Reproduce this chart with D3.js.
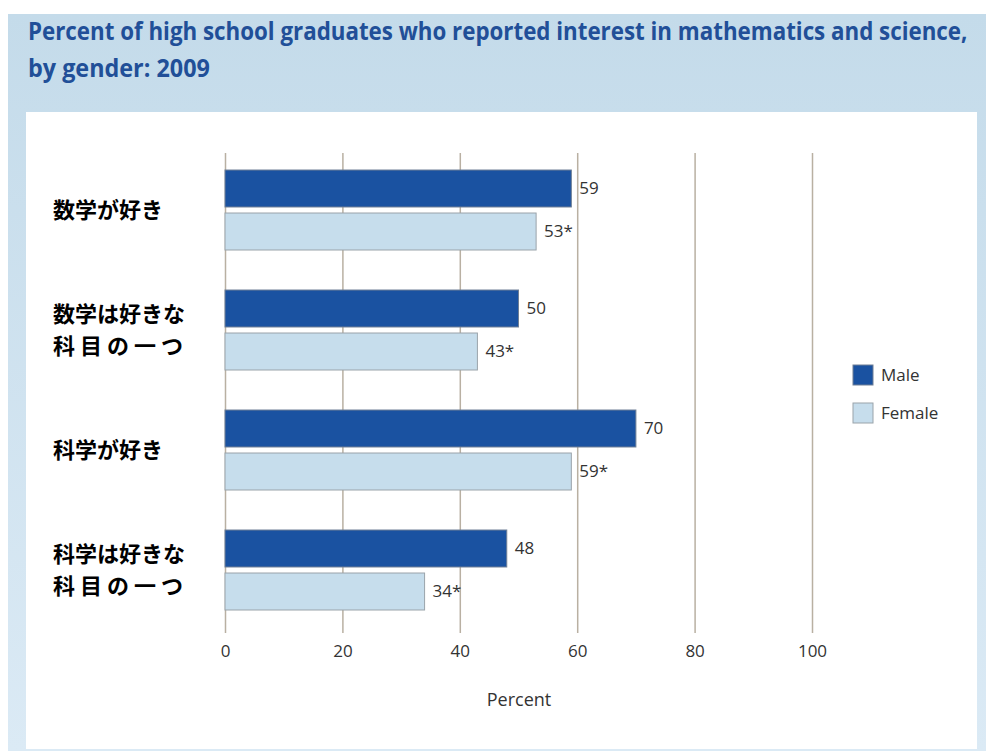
<!DOCTYPE html>
<html>
<head>
<meta charset="utf-8">
<script src="https://cdn.jsdelivr.net/npm/d3@7"></script>
<style>
  html, body { margin: 0; padding: 0; background: #ffffff; }
  svg { display: block; }
</style>
</head>
<body>
<svg id="chart" width="986" height="751"></svg>
<script>
// ---- data ----
const titleLines = ["Percent of high school graduates who reported interest in mathematics and science,", "by gender: 2009"];
const categories = [["数学が好き"], ["数学は好きな", "科目の一つ"], ["科学が好き"], ["科学は好きな", "科目の一つ"]];
const categoryKeys = ["math_like", "math_favorite", "sci_like", "sci_favorite"];
const seriesNames = ["Male", "Female"];
const maleValues = [59, 50, 70, 48];
const femaleValues = [53, 43, 59, 34];
const femaleSignificant = [true, true, true, true];
const xTicks = [0, 20, 40, 60, 80, 100];
const xAxisTitle = "Percent";

const svg = d3.select("#chart");
const W = 986, H = 751;

// background
const defs = svg.append("defs");
const grad = defs.append("linearGradient").attr("id", "bg").attr("x1", 0).attr("y1", 0).attr("x2", 0).attr("y2", 1);
grad.append("stop").attr("offset", "0%").attr("stop-color", "#c4dbea");
grad.append("stop").attr("offset", "100%").attr("stop-color", "#dbeaf5");
svg.append("rect").attr("x", 8).attr("y", 14).attr("width", W - 8).attr("height", H - 14).attr("fill", "url(#bg)");
svg.append("rect").attr("x", 26).attr("y", 112).attr("width", 951).attr("height", 637).attr("fill", "#ffffff");

// title (condensed by horizontal scaling to mimic the narrow reference face)
const titleWidths = [940, 182];
titleLines.forEach((t, i) => {
  const g = svg.append("g");
  const tx = g.append("text").attr("x", 0).attr("y", 0)
    .attr("font-family", "'Open Sans', sans-serif").attr("font-weight", 700)
    .attr("font-size", 25).attr("fill", "#214f98").text(t);
  const natural = tx.node().getComputedTextLength();
  const sx = titleWidths[i] / natural;
  g.attr("transform", `translate(28,${40 + i * 37}) scale(${sx},1)`);
});

// scales
const x = d3.scaleLinear().domain([0, 100]).range([225, 812]);
const y = d3.scaleBand().domain(categoryKeys).range([150, 630]).paddingInner(1 / 3).paddingOuter(1 / 6);
const ySub = d3.scaleBand().domain(seriesNames).range([0, y.bandwidth()]).paddingInner(0.14);
const color = d3.scaleOrdinal().domain(seriesNames).range(["#1a52a1", "#c6ddec"]);

// gridlines + axis
const axis = d3.axisBottom(x).tickValues(xTicks).tickSize(480).tickPadding(12).tickFormat(d3.format("d"));
const gAxis = svg.append("g").attr("transform", "translate(0,153)").call(axis);
gAxis.select(".domain").remove();
gAxis.selectAll(".tick line").attr("stroke", "#b9b0a2").attr("stroke-width", 1.5);
gAxis.selectAll(".tick text").attr("font-family", "'Open Sans', sans-serif").attr("font-size", 17).attr("fill", "#333333");

// x title
svg.append("text").attr("x", 519).attr("y", 706).attr("text-anchor", "middle")
  .attr("font-family", "'Open Sans', sans-serif").attr("font-size", 18).attr("fill", "#333333").text(xAxisTitle);

// bars
const rows = categoryKeys.map((k, i) => ({
  key: k,
  bars: [
    { series: "Male", value: maleValues[i], label: String(maleValues[i]) },
    { series: "Female", value: femaleValues[i], label: femaleValues[i] + (femaleSignificant[i] ? "*" : "") }
  ]
}));

const groups = svg.append("g").selectAll("g").data(rows).join("g")
  .attr("transform", d => `translate(0,${y(d.key)})`);

groups.selectAll("rect").data(d => d.bars).join("rect")
  .attr("x", x(0))
  .attr("y", d => ySub(d.series))
  .attr("width", d => x(d.value) - x(0))
  .attr("height", ySub.bandwidth())
  .attr("fill", d => color(d.series))
  .attr("stroke", d => d.series === "Male" ? "#6f7f95" : "#9aa3aa")
  .attr("stroke-width", 1);

groups.selectAll("text.val").data(d => d.bars).join("text").attr("class", "val")
  .attr("x", d => x(d.value) + 8)
  .attr("y", d => ySub(d.series) + ySub.bandwidth() / 2)
  .attr("dy", "0.35em")
  .attr("font-family", "'Open Sans', sans-serif").attr("font-size", 17).attr("fill", "#333333")
  .text(d => d.label);

// category labels
const labels = svg.append("g").attr("font-family", "'Noto Sans CJK JP', sans-serif").attr("font-weight", 700)
  .attr("font-size", 22).attr("fill", "#000000");
categoryKeys.forEach((k, i) => {
  const lines = categories[i];
  const mid = y(k) + y.bandwidth() / 2;
  const lh = 32;
  lines.forEach((t, j) => {
    const tx = labels.append("text")
      .attr("x", 53)
      .attr("y", mid + (j - (lines.length - 1) / 2) * lh)
      .attr("dy", "0.36em")
      .text(t);
    if (j === 1) tx.attr("letter-spacing", 5);
  });
});

// legend
const legend = svg.append("g").attr("transform", "translate(853,365)");
seriesNames.forEach((s, i) => {
  const g = legend.append("g").attr("transform", `translate(0,${i * 38})`);
  g.append("rect").attr("width", 20).attr("height", 20).attr("fill", color(s))
    .attr("stroke", s === "Male" ? "#6f7f95" : "#9aa3aa");
  g.append("text").attr("x", 28).attr("y", 10).attr("dy", "0.35em")
    .attr("font-family", "'Open Sans', sans-serif").attr("font-size", 17).attr("fill", "#333333").text(s);
});
</script>
</body>
</html>
